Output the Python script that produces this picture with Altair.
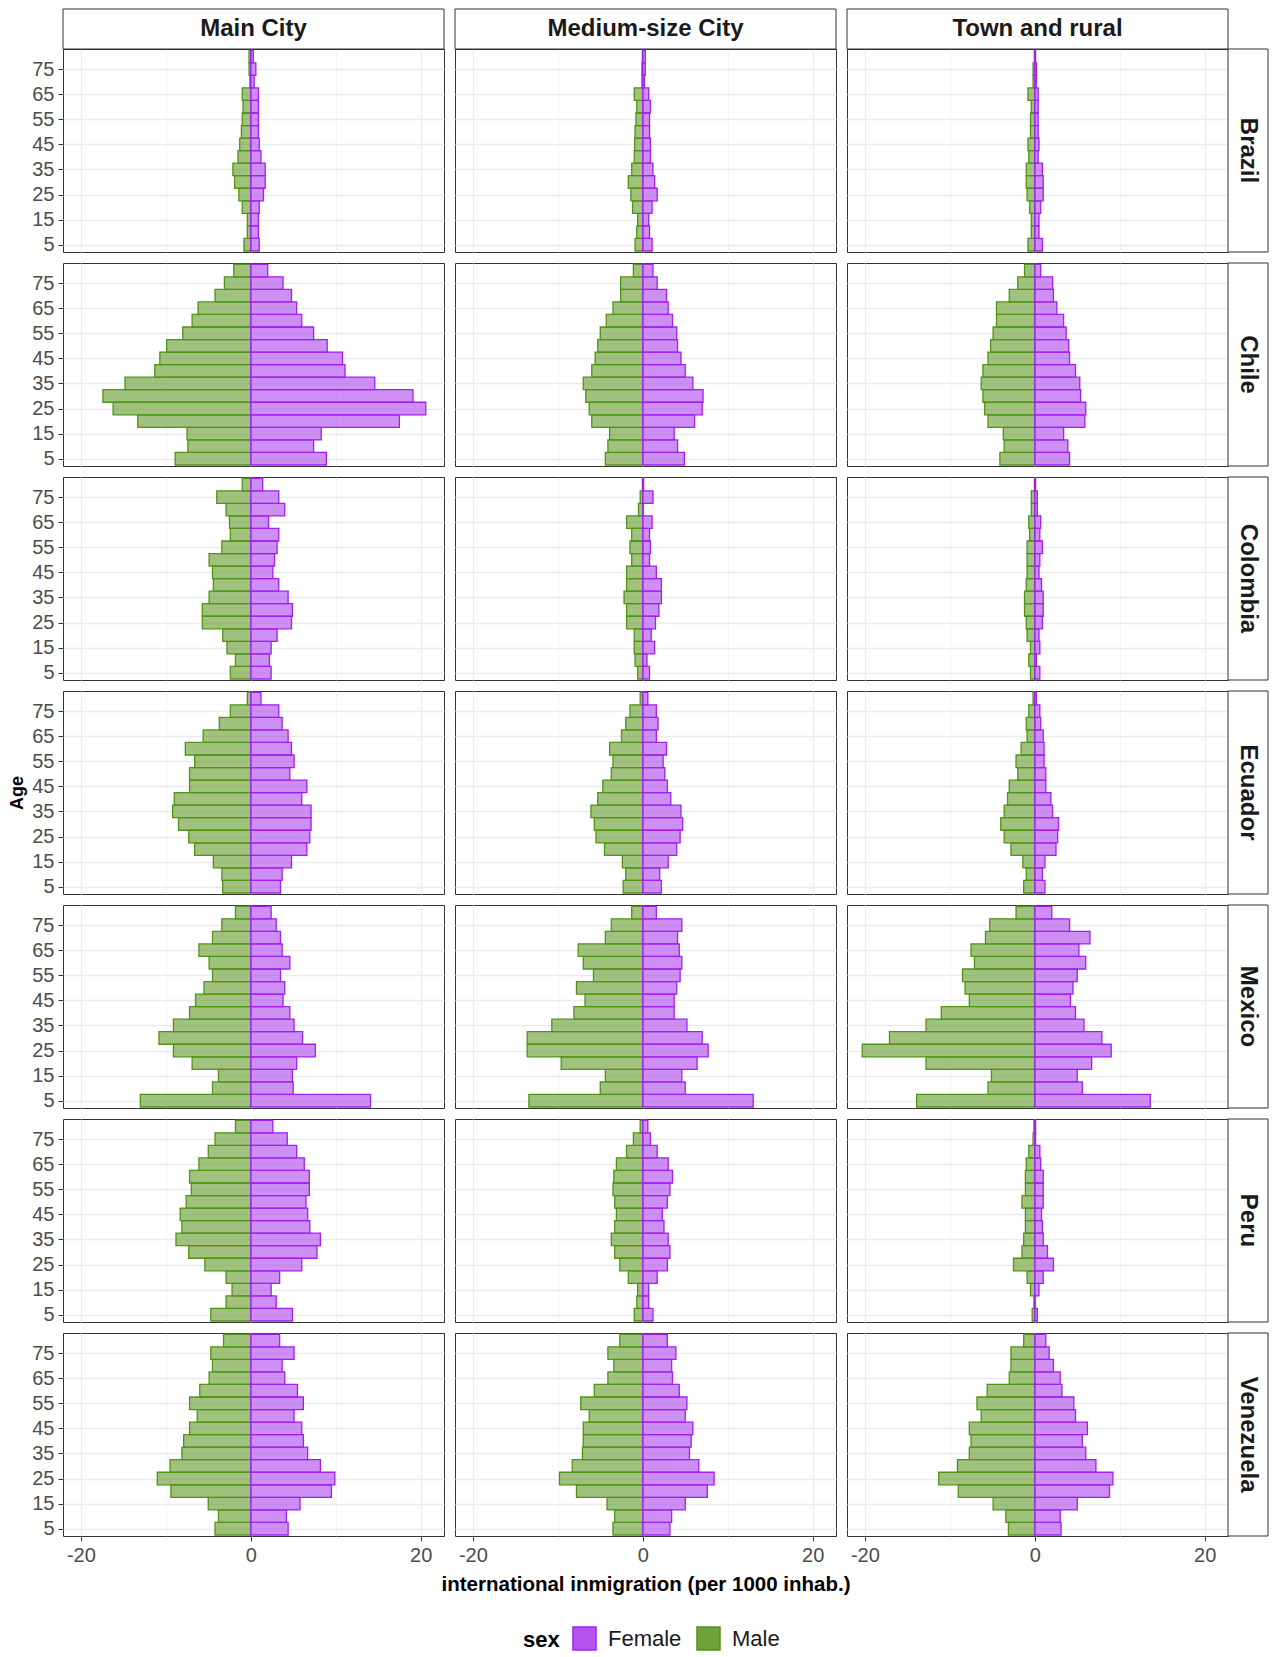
import altair as alt
import pandas as pd

FONT = "Liberation Sans"

AGES = list(range(5, 85, 5))
AREAS = ["Main City", "Medium-size City", "Town and rural"]
COUNTRIES = ["Brazil", "Chile", "Colombia", "Ecuador", "Mexico", "Peru", "Venezuela"]
SEXES = ["Female", "Male"]
X_TICKS = [-20, -10, 0, 10, 20]
Y_TICKS = list(range(5, 80, 10))

# values per 1000 inhabitants, ages 5..80; one list per area (Main, Medium, Town)
BRAZIL_MALE = [
    [0.8, 0.4, 0.4, 1.0, 1.4, 1.9, 2.1, 1.5, 1.3, 1.1, 1.0, 0.9, 1.0, 0.1, 0.2, 0.2],
    [0.9, 0.7, 0.6, 1.2, 1.4, 1.7, 1.3, 1.0, 0.95, 0.9, 0.8, 0.7, 1.0, 0.1, 0.1, 0.05],
    [0.8, 0.4, 0.4, 0.6, 0.9, 1.0, 1.0, 0.7, 0.8, 0.5, 0.5, 0.4, 0.8, 0.2, 0.2, 0.05],
]
BRAZIL_FEMALE = [
    [1.0, 0.9, 0.9, 1.0, 1.5, 1.7, 1.7, 1.2, 1.0, 0.9, 0.9, 0.9, 0.9, 0.4, 0.6, 0.3],
    [1.1, 0.8, 0.7, 1.1, 1.7, 1.4, 1.2, 0.9, 0.9, 0.8, 0.8, 0.9, 0.7, 0.2, 0.3, 0.3],
    [0.9, 0.5, 0.5, 0.7, 1.0, 1.0, 0.9, 0.4, 0.5, 0.4, 0.4, 0.4, 0.4, 0.2, 0.2, 0.1],
]
CHILE_MALE = [
    [8.9, 7.4, 7.5, 13.3, 16.2, 17.4, 14.8, 11.3, 10.7, 9.9, 8.0, 6.9, 6.2, 4.2, 3.1, 2.0],
    [4.4, 4.1, 3.9, 6.0, 6.3, 6.7, 7.0, 6.0, 5.6, 5.3, 5.0, 4.3, 3.5, 2.6, 2.6, 1.1],
    [4.1, 3.6, 3.7, 5.5, 5.9, 6.1, 6.3, 6.1, 5.5, 5.2, 4.9, 4.5, 4.5, 3.0, 2.0, 1.2],
]
CHILE_FEMALE = [
    [8.9, 7.4, 8.3, 17.5, 20.6, 19.1, 14.6, 11.1, 10.8, 9.0, 7.4, 6.0, 5.4, 4.8, 3.8, 2.0],
    [4.9, 4.1, 3.7, 6.1, 7.0, 7.1, 5.9, 5.0, 4.5, 4.1, 4.0, 3.5, 3.0, 2.8, 1.7, 1.2],
    [4.1, 3.9, 3.4, 5.9, 6.0, 5.4, 5.3, 4.8, 4.1, 4.0, 3.7, 3.4, 2.6, 2.2, 2.1, 0.7],
]
COLOMBIA_MALE = [
    [2.4, 1.8, 2.8, 3.3, 5.7, 5.7, 4.9, 4.4, 4.5, 4.9, 3.4, 2.4, 2.5, 2.9, 4.0, 1.0],
    [0.6, 0.9, 1.0, 1.0, 1.9, 1.9, 2.2, 1.9, 1.9, 1.3, 1.5, 1.3, 1.9, 0.5, 0.3, 0.05],
    [0.5, 0.7, 0.5, 0.9, 1.0, 1.2, 1.2, 1.0, 0.9, 0.9, 0.9, 0.6, 0.7, 0.4, 0.4, 0.05],
]
COLOMBIA_FEMALE = [
    [2.4, 2.2, 2.4, 3.1, 4.8, 4.9, 4.4, 3.3, 2.6, 2.8, 3.1, 3.3, 2.1, 4.0, 3.3, 1.4],
    [0.8, 0.5, 1.4, 1.0, 1.5, 1.9, 2.2, 2.2, 1.6, 0.8, 0.9, 0.8, 1.1, 0.05, 1.2, 0.1],
    [0.6, 0.2, 0.6, 0.5, 0.9, 1.0, 1.0, 0.8, 0.5, 0.6, 0.9, 0.6, 0.7, 0.3, 0.3, 0.1],
]
ECUADOR_MALE = [
    [3.3, 3.4, 4.4, 6.6, 7.3, 8.5, 9.2, 9.0, 7.2, 7.2, 6.6, 7.7, 5.6, 3.7, 2.4, 0.4],
    [2.3, 2.0, 2.4, 4.5, 5.5, 5.7, 6.1, 5.3, 4.7, 3.7, 3.5, 3.9, 2.5, 2.0, 1.5, 0.3],
    [1.3, 1.0, 1.4, 2.8, 3.6, 4.0, 3.6, 3.2, 3.0, 2.0, 2.2, 1.6, 0.9, 1.0, 0.7, 0.2],
]
ECUADOR_FEMALE = [
    [3.5, 3.7, 4.8, 6.6, 6.95, 7.1, 7.1, 6.0, 6.6, 4.6, 5.1, 4.8, 4.4, 3.7, 3.3, 1.2],
    [2.2, 2.0, 3.0, 4.0, 4.4, 4.7, 4.5, 3.3, 2.9, 2.6, 2.4, 2.8, 1.6, 1.8, 1.6, 0.6],
    [1.2, 0.9, 1.2, 2.5, 2.7, 2.8, 2.1, 1.9, 1.3, 1.3, 1.1, 1.1, 1.0, 0.7, 0.6, 0.2],
]
MEXICO_MALE = [
    [13.0, 4.5, 3.8, 6.9, 9.1, 10.8, 9.1, 7.2, 6.5, 5.5, 4.5, 4.9, 6.1, 4.5, 3.4, 1.8],
    [13.4, 5.0, 4.4, 9.6, 13.6, 13.6, 10.7, 8.1, 6.8, 7.8, 5.8, 7.0, 7.6, 4.4, 3.7, 1.3],
    [13.9, 5.5, 5.1, 12.8, 20.3, 17.1, 12.8, 11.0, 7.7, 8.2, 8.5, 7.1, 7.5, 5.8, 5.3, 2.2],
]
MEXICO_FEMALE = [
    [14.1, 5.0, 4.9, 5.4, 7.6, 6.1, 5.1, 4.6, 3.8, 4.0, 3.5, 4.6, 3.7, 3.5, 3.0, 2.4],
    [13.0, 5.0, 4.6, 6.4, 7.7, 7.0, 5.2, 3.7, 3.7, 4.0, 4.4, 4.6, 4.3, 4.1, 4.6, 1.6],
    [13.6, 5.6, 5.0, 6.7, 9.0, 7.9, 5.8, 4.8, 4.2, 4.5, 5.0, 6.0, 5.2, 6.5, 4.1, 2.0],
]
PERU_MALE = [
    [4.7, 2.9, 2.2, 2.9, 5.4, 7.3, 8.8, 8.1, 8.3, 7.6, 7.0, 7.2, 6.1, 5.0, 4.2, 1.8],
    [1.0, 0.7, 0.6, 1.7, 2.7, 3.3, 3.7, 3.3, 3.1, 3.3, 3.5, 3.4, 3.1, 1.9, 1.1, 0.3],
    [0.3, 0.1, 0.5, 0.9, 2.5, 1.5, 1.3, 1.1, 1.1, 1.5, 1.1, 1.1, 1.0, 0.7, 0.2, 0.1],
]
PERU_FEMALE = [
    [4.9, 3.0, 2.4, 3.4, 6.0, 7.8, 8.2, 6.95, 6.7, 6.5, 6.9, 6.9, 6.3, 5.4, 4.3, 2.6],
    [1.2, 0.7, 0.7, 1.7, 2.9, 3.2, 3.0, 2.5, 2.3, 2.9, 3.2, 3.5, 3.0, 1.7, 0.9, 0.6],
    [0.3, 0.05, 0.5, 1.0, 2.2, 1.5, 1.0, 0.9, 0.8, 1.0, 1.0, 1.0, 0.7, 0.6, 0.1, 0.1],
]
VENEZUELA_MALE = [
    [4.2, 3.8, 5.0, 9.4, 11.0, 9.5, 8.1, 7.9, 7.2, 6.3, 7.2, 6.0, 4.9, 4.5, 4.7, 3.2],
    [3.5, 3.3, 4.2, 7.8, 9.8, 8.3, 7.1, 7.0, 7.0, 6.3, 7.3, 5.7, 4.1, 3.4, 4.1, 2.7],
    [3.1, 3.4, 4.9, 9.0, 11.3, 9.1, 7.7, 7.5, 7.7, 6.3, 6.8, 5.6, 3.0, 2.8, 2.8, 1.3],
]
VENEZUELA_FEMALE = [
    [4.4, 4.2, 5.8, 9.5, 9.9, 8.2, 6.7, 6.2, 6.0, 5.1, 6.2, 5.5, 4.0, 3.7, 5.1, 3.4],
    [3.2, 3.4, 5.0, 7.6, 8.4, 6.6, 5.5, 5.7, 5.9, 5.0, 5.2, 4.3, 3.5, 3.4, 3.9, 2.9],
    [3.1, 3.0, 5.0, 8.8, 9.2, 7.2, 6.0, 5.6, 6.2, 4.8, 4.6, 3.2, 3.0, 2.2, 1.7, 1.3],
]

MALE = {
    "Brazil": BRAZIL_MALE, "Chile": CHILE_MALE, "Colombia": COLOMBIA_MALE,
    "Ecuador": ECUADOR_MALE, "Mexico": MEXICO_MALE, "Peru": PERU_MALE,
    "Venezuela": VENEZUELA_MALE,
}
FEMALE = {
    "Brazil": BRAZIL_FEMALE, "Chile": CHILE_FEMALE, "Colombia": COLOMBIA_FEMALE,
    "Ecuador": ECUADOR_FEMALE, "Mexico": MEXICO_FEMALE, "Peru": PERU_FEMALE,
    "Venezuela": VENEZUELA_FEMALE,
}

rows = []
for country in COUNTRIES:
    for ai, area in enumerate(AREAS):
        for sex, table, sign in (("Male", MALE, -1), ("Female", FEMALE, 1)):
            for age, v in zip(AGES, table[country][ai]):
                rows.append(dict(country=country, area=area, sex=sex,
                                 age_lo=age - 2.5, age_hi=age + 2.5,
                                 zero=0.0, value=sign * v))
df = pd.DataFrame(rows)

W, H = 381, 203
STRIP = 40
XDOM = [-22.1, 22.75]
YDOM = [2.1, 83.0]
FILL_COLORS = ["#B453F0", "#6FA23A"]
STROKE_COLORS = ["#A020F0", "#4F9414"]
GRID = "#EBEBEB"

legend = alt.Legend(
    title="sex", orient="none", legendX=460, legendY=1577, direction="horizontal",
    titleOrient="left", symbolType="square", symbolSize=529,
    symbolStrokeColor="#A020F0", symbolStrokeWidth=1.5, symbolOpacity=1,
    labelFontSize=22, titleFontSize=22, titleFontWeight="bold", titleColor="black",
    labelColor="#1A1A1A", labelFont=FONT, titleFont=FONT, labelOffset=11,
    columnPadding=12, titlePadding=12,
)


def panel(ri, ci):
    country, area = COUNTRIES[ri], AREAS[ci]
    bottom = ri == len(COUNTRIES) - 1
    left = ci == 0
    sub = df[(df.country == country) & (df.area == area)]

    x_axis = alt.Axis(
        values=X_TICKS, grid=True, gridColor=GRID,
        gridWidth={"condition": {"test": "abs(datum.value) == 10", "value": 0.6}, "value": 1.2},
        labels=bottom, ticks=bottom, domain=False,
        title=("international inmigration (per 1000 inhab.)" if (bottom and ci == 1) else None),
        labelExpr="abs(datum.value) == 10 ? '' : '' + datum.value",
        tickOpacity={"condition": {"test": "abs(datum.value) == 10", "value": 0}, "value": 1},
        titlePadding=9,
    )
    y_axis = alt.Axis(
        values=Y_TICKS, grid=True, gridColor=GRID, gridWidth=1.3,
        labels=left, ticks=left, domain=False,
        title=("Age" if (left and country == "Ecuador") else None),
        titleFontSize=18, titlePadding=5,
    )
    bars = alt.Chart(sub).mark_rect(clip=True, fillOpacity=0.65, strokeWidth=1.3).encode(
        x=alt.X("zero:Q", scale=alt.Scale(domain=XDOM, nice=False, zero=False), axis=x_axis),
        x2="value:Q",
        y=alt.Y("age_lo:Q", scale=alt.Scale(domain=YDOM, nice=False, zero=False), axis=y_axis),
        y2="age_hi:Q",
        fill=alt.Fill("sex:N", scale=alt.Scale(domain=SEXES, range=FILL_COLORS), legend=legend),
        stroke=alt.Stroke("sex:N", scale=alt.Scale(domain=SEXES, range=STROKE_COLORS), legend=None),
    )
    layers = [bars]
    if ri == 0:
        src = pd.DataFrame({"label": [area]})
        layers.append(alt.Chart(src).mark_rect(fill="white", stroke="#333333", strokeWidth=1).encode(
            x=alt.value(0), x2=alt.value(W), y=alt.value(-STRIP), y2=alt.value(0)))
        layers.append(alt.Chart(src).mark_text(
            fontSize=24, fontWeight="bold", font=FONT, color="#1A1A1A",
            baseline="middle", align="center").encode(
            x=alt.value(W / 2), y=alt.value(-STRIP / 2), text="label:N"))
    if ci == len(AREAS) - 1:
        src = pd.DataFrame({"label": [country]})
        layers.append(alt.Chart(src).mark_rect(fill="white", stroke="#333333", strokeWidth=1).encode(
            x=alt.value(W), x2=alt.value(W + STRIP), y=alt.value(0), y2=alt.value(H)))
        layers.append(alt.Chart(src).mark_text(
            fontSize=24, fontWeight="bold", font=FONT, color="#1A1A1A",
            baseline="middle", align="center", angle=90).encode(
            x=alt.value(W + STRIP / 2), y=alt.value(H / 2), text="label:N"))
    return alt.layer(*layers).properties(width=W, height=H)


panels = [panel(ri, ci) for ri in range(len(COUNTRIES)) for ci in range(len(AREAS))]

chart = alt.concat(*panels, columns=3, spacing=11, bounds="flush").resolve_scale(
    fill="shared", stroke="shared"
).properties(
    padding=0, background="white"
).configure_view(
    stroke="#333333", strokeWidth=1
).configure_axis(
    labelFont=FONT, titleFont=FONT, labelFontSize=20, labelColor="#4D4D4D",
    tickColor="#333333", tickSize=5, tickWidth=1, labelPadding=4,
    titleFontSize=20.5, titleFontWeight="bold", titleColor="black",
)

chart.save("out.html", embed_options={"renderer": "svg", "actions": False})
